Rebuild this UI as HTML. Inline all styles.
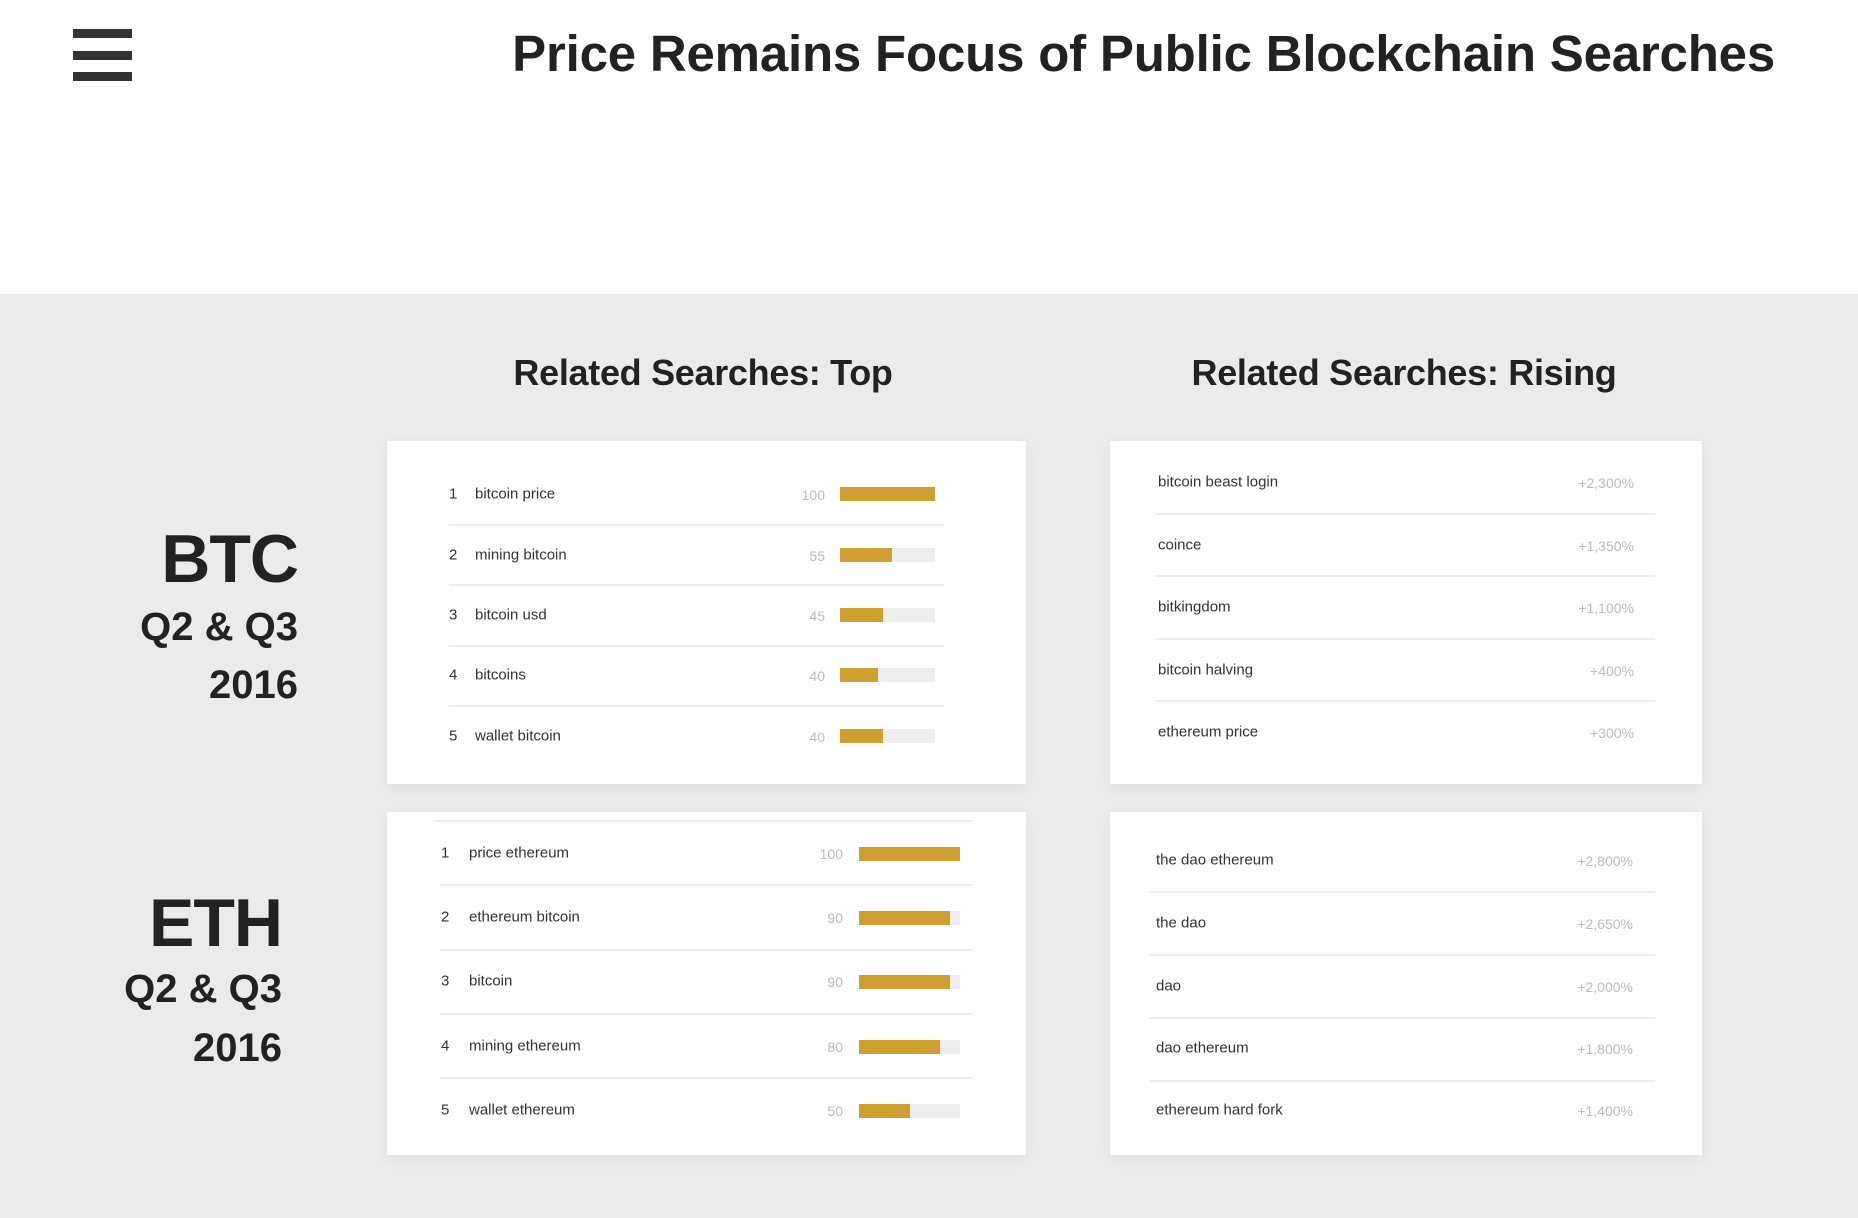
<!DOCTYPE html>
<html><head><meta charset="utf-8"><style>
*{margin:0;padding:0;box-sizing:border-box}
body{width:1858px;height:1218px;position:relative;background:#fff;font-family:"Liberation Sans",sans-serif;overflow:hidden}
.a{position:absolute}
.bar{position:absolute;height:9px;background:#333;left:73px;width:59px}
.gray{position:absolute;left:0;top:294px;width:1858px;height:924px;background:#ebebeb}
.card{position:absolute;background:#fff;box-shadow:0 4px 14px rgba(0,0,0,0.06)}
.h{position:absolute;font-weight:bold;font-size:36px;color:#222;transform:translateX(-50%);white-space:nowrap;letter-spacing:-0.3px}
.big{position:absolute;font-weight:bold;color:#222;text-align:right;white-space:nowrap}
.t{position:absolute;font-size:15px;color:#333;white-space:nowrap;transform:translateY(-50%)}
.v{position:absolute;font-size:14px;color:#bbb;white-space:nowrap;transform:translateY(-50%);text-align:right}
.sep{position:absolute;height:2px;background:#eeeeee}
.bg{position:absolute;height:14px;background:#eeeeee;transform:translateY(-50%)}
.fg{position:absolute;left:0;top:0;height:14px;background:#cf9f32}
</style></head><body>
<div class="bar" style="top:29px"></div>
<div class="bar" style="top:51px"></div>
<div class="bar" style="top:72px"></div>
<div class="a" style="right:83px;top:24px;font-size:51px;font-weight:bold;color:#222;letter-spacing:-0.2px;white-space:nowrap">Price Remains Focus of Public Blockchain Searches</div>
<div class="gray"></div>
<div class="h" style="left:703px;top:352px">Related Searches: Top</div>
<div class="h" style="left:1404px;top:352px">Related Searches: Rising</div>

<div class="big" style="right:1560px;top:520px;font-size:68px;letter-spacing:-1px">BTC</div>
<div class="big" style="right:1560px;top:605px;font-size:40px">Q2 &amp; Q3</div>
<div class="big" style="right:1560px;top:663px;font-size:40px">2016</div>
<div class="big" style="right:1576px;top:884px;font-size:68px;letter-spacing:-1px">ETH</div>
<div class="big" style="right:1576px;top:967px;font-size:40px">Q2 &amp; Q3</div>
<div class="big" style="right:1576px;top:1026px;font-size:40px">2016</div>

<div class="card" style="left:387px;top:441px;width:639px;height:343px"></div>
<div class="card" style="left:1110px;top:441px;width:592px;height:343px"></div>
<div class="card" style="left:387px;top:812px;width:639px;height:343px"></div>
<div class="card" style="left:1110px;top:812px;width:592px;height:343px"></div>

<!-- BTC top -->
<div class="sep" style="left:449px;width:495px;top:524px"></div>
<div class="sep" style="left:449px;width:495px;top:584px"></div>
<div class="sep" style="left:449px;width:495px;top:645px"></div>
<div class="sep" style="left:449px;width:495px;top:705px"></div>
<div class="t" style="left:449px;top:494px">1</div><div class="t" style="left:475px;top:494px">bitcoin price</div><div class="v" style="right:1033px;top:495px">100</div><div class="bg" style="left:840px;width:95px;top:494px"><div class="fg" style="width:95px"></div></div>
<div class="t" style="left:449px;top:555px">2</div><div class="t" style="left:475px;top:555px">mining bitcoin</div><div class="v" style="right:1033px;top:556px">55</div><div class="bg" style="left:840px;width:95px;top:555px"><div class="fg" style="width:52px"></div></div>
<div class="t" style="left:449px;top:615px">3</div><div class="t" style="left:475px;top:615px">bitcoin usd</div><div class="v" style="right:1033px;top:616px">45</div><div class="bg" style="left:840px;width:95px;top:615px"><div class="fg" style="width:43px"></div></div>
<div class="t" style="left:449px;top:675px">4</div><div class="t" style="left:475px;top:675px">bitcoins</div><div class="v" style="right:1033px;top:676px">40</div><div class="bg" style="left:840px;width:95px;top:675px"><div class="fg" style="width:38px"></div></div>
<div class="t" style="left:449px;top:736px">5</div><div class="t" style="left:475px;top:736px">wallet bitcoin</div><div class="v" style="right:1033px;top:737px">40</div><div class="bg" style="left:840px;width:95px;top:736px"><div class="fg" style="width:43px"></div></div>

<!-- BTC rising -->
<div class="sep" style="left:1155px;width:500px;top:513px"></div>
<div class="sep" style="left:1155px;width:500px;top:575px"></div>
<div class="sep" style="left:1155px;width:500px;top:638px"></div>
<div class="sep" style="left:1155px;width:500px;top:700px"></div>
<div class="t" style="left:1158px;top:482px">bitcoin beast login</div><div class="v" style="right:224px;top:483px">+2,300%</div>
<div class="t" style="left:1158px;top:545px">coince</div><div class="v" style="right:224px;top:546px">+1,350%</div>
<div class="t" style="left:1158px;top:607px">bitkingdom</div><div class="v" style="right:224px;top:608px">+1,100%</div>
<div class="t" style="left:1158px;top:670px">bitcoin halving</div><div class="v" style="right:224px;top:671px">+400%</div>
<div class="t" style="left:1158px;top:732px">ethereum price</div><div class="v" style="right:224px;top:733px">+300%</div>

<!-- ETH top -->
<div class="sep" style="left:434px;width:539px;top:820px"></div>
<div class="sep" style="left:440px;width:533px;top:884px"></div>
<div class="sep" style="left:440px;width:533px;top:949px"></div>
<div class="sep" style="left:440px;width:533px;top:1013px"></div>
<div class="sep" style="left:440px;width:533px;top:1077px"></div>
<div class="t" style="left:441px;top:853px">1</div><div class="t" style="left:469px;top:853px">price ethereum</div><div class="v" style="right:1015px;top:854px">100</div><div class="bg" style="left:859px;width:101px;top:854px"><div class="fg" style="width:101px"></div></div>
<div class="t" style="left:441px;top:917px">2</div><div class="t" style="left:469px;top:917px">ethereum bitcoin</div><div class="v" style="right:1015px;top:918px">90</div><div class="bg" style="left:859px;width:101px;top:918px"><div class="fg" style="width:91px"></div></div>
<div class="t" style="left:441px;top:981px">3</div><div class="t" style="left:469px;top:981px">bitcoin</div><div class="v" style="right:1015px;top:982px">90</div><div class="bg" style="left:859px;width:101px;top:982px"><div class="fg" style="width:91px"></div></div>
<div class="t" style="left:441px;top:1046px">4</div><div class="t" style="left:469px;top:1046px">mining ethereum</div><div class="v" style="right:1015px;top:1047px">80</div><div class="bg" style="left:859px;width:101px;top:1047px"><div class="fg" style="width:81px"></div></div>
<div class="t" style="left:441px;top:1110px">5</div><div class="t" style="left:469px;top:1110px">wallet ethereum</div><div class="v" style="right:1015px;top:1111px">50</div><div class="bg" style="left:859px;width:101px;top:1111px"><div class="fg" style="width:51px"></div></div>

<!-- ETH rising -->
<div class="sep" style="left:1149px;width:506px;top:891px"></div>
<div class="sep" style="left:1149px;width:506px;top:954px"></div>
<div class="sep" style="left:1149px;width:506px;top:1017px"></div>
<div class="sep" style="left:1149px;width:506px;top:1080px"></div>
<div class="t" style="left:1156px;top:860px">the dao ethereum</div><div class="v" style="right:225px;top:861px">+2,800%</div>
<div class="t" style="left:1156px;top:923px">the dao</div><div class="v" style="right:225px;top:924px">+2,650%</div>
<div class="t" style="left:1156px;top:986px">dao</div><div class="v" style="right:225px;top:987px">+2,000%</div>
<div class="t" style="left:1156px;top:1048px">dao ethereum</div><div class="v" style="right:225px;top:1049px">+1,800%</div>
<div class="t" style="left:1156px;top:1110px">ethereum hard fork</div><div class="v" style="right:225px;top:1111px">+1,400%</div>
</body></html>
